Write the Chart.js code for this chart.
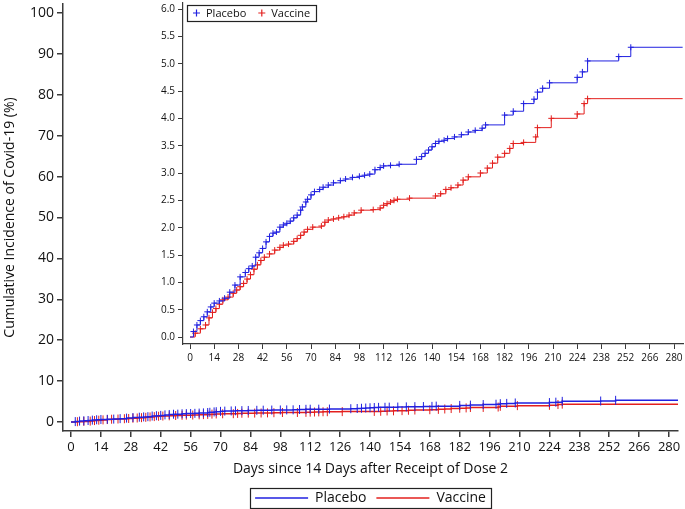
<!DOCTYPE html>
<html>
<head>
<meta charset="utf-8">
<script src="https://cdn.jsdelivr.net/npm/chart.js@4.4.0/dist/chart.umd.min.js"></script>
<style>
  html, body { margin: 0; padding: 0; background: #fff; }
  #wrap { position: relative; width: 685px; height: 509px; }
  #main { position: absolute; left: 0; top: 0; }
  #inset { position: absolute; left: 150px; top: 0; }
</style>
</head>
<body>
<div id="wrap">
  <canvas id="main" width="685" height="509"></canvas>
  <canvas id="inset" width="535" height="370"></canvas>
</div>
<script>
// tick labels
const xTicks = [0, 14, 28, 42, 56, 70, 84, 98, 112, 126, 140, 154, 168, 182, 196, 210, 224, 238, 252, 266, 280];
const mainYTicks = [0, 10, 20, 30, 40, 50, 60, 70, 80, 90, 100];
const insetYTicks = [0, 0.5, 1, 1.5, 2, 2.5, 3, 3.5, 4, 4.5, 5, 5.5, 6];

const groups = ['Placebo', 'Vaccine'];

// cumulative incidence (%), day -> value after the step
const placeboDays = [0, 2, 4, 6, 8, 10, 12, 14, 17, 20, 23, 26, 29, 32, 34, 36, 38, 40, 42, 44, 46, 48, 50, 52, 54, 56, 58, 60, 62, 64, 65, 67, 68, 70, 72, 75, 77, 80, 83, 87, 90, 94, 98, 101, 104, 107, 110, 112, 116, 121, 131, 134, 136, 138, 140, 142, 144, 147, 149, 153, 157, 161, 165, 169, 171, 182, 187, 193, 199, 201, 204, 208, 224, 227, 230, 248, 255, 285];
const placeboPct = [0, 0.10, 0.22, 0.30, 0.37, 0.46, 0.55, 0.62, 0.66, 0.71, 0.82, 0.95, 1.10, 1.18, 1.25, 1.30, 1.46, 1.54, 1.62, 1.74, 1.84, 1.90, 1.92, 2.01, 2.05, 2.08, 2.12, 2.18, 2.23, 2.32, 2.38, 2.47, 2.52, 2.60, 2.66, 2.70, 2.74, 2.78, 2.82, 2.86, 2.89, 2.92, 2.94, 2.96, 2.98, 3.06, 3.10, 3.13, 3.14, 3.16, 3.25, 3.30, 3.36, 3.42, 3.48, 3.54, 3.58, 3.60, 3.63, 3.66, 3.70, 3.75, 3.78, 3.82, 3.88, 4.06, 4.13, 4.27, 4.35, 4.48, 4.55, 4.65, 4.75, 4.85, 5.05, 5.13, 5.30, 5.30];

const vaccineDays = [0, 3, 6, 9, 11, 13, 15, 17, 19, 22, 25, 27, 29, 31, 33, 35, 37, 39, 41, 43, 46, 49, 52, 54, 57, 60, 62, 64, 66, 68, 71, 76, 78, 80, 83, 86, 89, 92, 95, 99, 106, 110, 112, 114, 116, 118, 120, 127, 142, 145, 148, 151, 155, 158, 161, 168, 172, 175, 178, 182, 185, 187, 193, 200, 201, 209, 224, 228, 230, 285];
const vaccinePct = [0, 0.07, 0.15, 0.22, 0.35, 0.45, 0.52, 0.60, 0.68, 0.73, 0.80, 0.86, 0.92, 0.98, 1.06, 1.14, 1.24, 1.32, 1.40, 1.46, 1.52, 1.59, 1.64, 1.68, 1.70, 1.75, 1.80, 1.86, 1.92, 1.97, 2.01, 2.03, 2.10, 2.14, 2.16, 2.18, 2.20, 2.23, 2.27, 2.32, 2.33, 2.36, 2.41, 2.44, 2.47, 2.50, 2.52, 2.54, 2.58, 2.62, 2.70, 2.73, 2.78, 2.87, 2.93, 3.00, 3.09, 3.18, 3.29, 3.36, 3.45, 3.54, 3.56, 3.66, 3.83, 4.00, 4.08, 4.27, 4.36, 4.36];

const colors = ['#2121e0', '#e3201e'];
const axisColor = '#3a3a3a';
const FONT = 'Open Sans';

function toPoints(days, vals) {
    return days.map((d, i) => ({ x: d, y: vals[i] }));
}

// no censor mark on the first and last point
const markRadius = r => ctx =>
    (ctx.dataIndex === 0 || ctx.dataIndex === ctx.dataset.data.length - 1) ? 0 : r;

function makeDatasets(style) {
    const series = [toPoints(placeboDays, placeboPct), toPoints(vaccineDays, vaccinePct)];
    return groups.map((g, i) => ({
        label: g,
        data: series[i],
        stepped: true,
        borderColor: colors[i],
        backgroundColor: colors[i],
        borderWidth: style.lineWidth,
        pointStyle: style.pointStyle,
        pointRotation: style.rotation,
        pointRadius: markRadius(style.radius),
        pointBorderWidth: 1,
        pointBorderColor: colors[i],
        fill: false
    }));
}

// box drawn round the legend items
const legendFrame = {
    id: 'legendFrame',
    afterDraw(chart, args, opts) {
        const boxes = chart.legend && chart.legend.legendHitBoxes;
        if (!opts.on || !boxes || !boxes.length) return;
        const left = Math.min(...boxes.map(b => b.left)) - opts.padX;
        const right = Math.max(...boxes.map(b => b.left + b.width)) + opts.padX;
        const top = Math.min(...boxes.map(b => b.top)) - opts.padY;
        const bottom = Math.max(...boxes.map(b => b.top + b.height)) + opts.padY;
        const ctx = chart.ctx;
        ctx.save();
        ctx.strokeStyle = '#222';
        ctx.lineWidth = opts.width;
        ctx.strokeRect(Math.round(left) + 0.5, Math.round(top) + 0.5, Math.round(right - left), Math.round(bottom - top));
        ctx.restore();
    }
};

// small key in the top-left corner of the inset plot
const insetKey = {
    id: 'insetKey',
    afterDraw(chart, args, o) {
        if (!o.on) return;
        const ctx = chart.ctx;
        const a = chart.chartArea;
        const left = a.left + o.left;
        const top = a.top + o.top;
        const cy = top + o.height / 2;
        ctx.save();
        ctx.font = o.size + 'px ' + FONT;
        ctx.textBaseline = 'middle';
        let x = left + o.padX;
        chart.data.datasets.forEach((ds, i) => {
            if (i) x += o.gap;
            const mx = x + o.mark;
            ctx.strokeStyle = ds.borderColor;
            ctx.lineWidth = 1.2;
            ctx.beginPath();
            ctx.moveTo(mx - o.mark, cy); ctx.lineTo(mx + o.mark, cy);
            ctx.moveTo(mx, cy - o.mark); ctx.lineTo(mx, cy + o.mark);
            ctx.stroke();
            x = mx + o.mark + o.textGap;
            ctx.fillStyle = '#111';
            ctx.fillText(ds.label, x, cy + 0.5);
            x += ctx.measureText(ds.label).width;
        });
        const right = x + o.padX;
        ctx.strokeStyle = '#222';
        ctx.lineWidth = 1.2;
        ctx.strokeRect(Math.round(left) + 0.5, Math.round(top) + 0.5, Math.round(right - left), o.height);
        ctx.restore();
    }
};

function setTicks(list) {
    return scale => { scale.ticks = list.map(v => ({ value: v })); };
}

// fixed axis sizes, no extra room for edge labels
function fixSize(prop, val) {
    return s => {
        s[prop] = val;
        s.paddingTop = 0; s.paddingBottom = 0; s.paddingLeft = 0; s.paddingRight = 0;
    };
}

// MAIN CHART
new Chart(document.getElementById('main'), {
    type: 'line',
    data: { datasets: makeDatasets({ lineWidth: 1.5, pointStyle: 'line', rotation: 90, radius: 4.5 }) },
    options: {
        responsive: false,
        animation: false,
        events: [],
        layout: { padding: { top: 4, right: 7, left: 0, bottom: -6 } },
        scales: {
            x: {
                type: 'linear',
                min: -3.75,
                max: 284.2,
                afterBuildTicks: setTicks(xTicks),
                afterFit: fixSize('height', 50),
                grid: { drawOnChartArea: false, tickLength: 6, color: axisColor, lineWidth: 1.5 },
                border: { color: axisColor, width: 1.5 },
                ticks: { color: '#111', font: { family: FONT, size: 13 }, padding: 2, maxRotation: 0, autoSkip: false },
                title: {
                    display: true,
                    text: 'Days since 14 Days after Receipt of Dose 2',
                    color: '#111',
                    font: { family: FONT, size: 14 },
                    padding: { top: 0, bottom: 4 }
                }
            },
            y: {
                min: -2.2,
                max: 102.2,
                afterBuildTicks: setTicks(mainYTicks),
                afterFit: fixSize('width', 63),
                grid: { drawOnChartArea: false, tickLength: 6, color: axisColor, lineWidth: 1.5 },
                border: { color: axisColor, width: 1.5 },
                ticks: { color: '#111', font: { family: FONT, size: 14 }, padding: 3 },
                title: {
                    display: true,
                    text: 'Cumulative Incidence of Covid-19 (%)',
                    color: '#111',
                    font: { family: FONT, size: 14 },
                    padding: { top: 2, bottom: 0 }
                }
            }
        },
        plugins: {
            legend: {
                position: 'bottom',
                fullSize: false,
                labels: {
                    usePointStyle: true,
                    pointStyleWidth: 53,
                    padding: 10,
                    color: '#111',
                    font: { family: FONT, size: 14 },
                    generateLabels: chart => chart.data.datasets.map((ds, i) => ({
                        text: ds.label,
                        fillStyle: ds.borderColor,
                        strokeStyle: ds.borderColor,
                        lineWidth: 1.5,
                        pointStyle: 'line',
                        rotation: 0,
                        fontColor: '#111',
                        hidden: false,
                        datasetIndex: i
                    }))
                }
            },
            tooltip: { enabled: false },
            legendFrame: { on: true, padX: 5, padY: 3, width: 1.2 },
            insetKey: { on: false }
        }
    },
    plugins: [legendFrame, insetKey]
});

// INSET CHART
new Chart(document.getElementById('inset'), {
    type: 'line',
    data: { datasets: makeDatasets({ lineWidth: 1, pointStyle: 'cross', rotation: 0, radius: 3 }) },
    options: {
        responsive: false,
        animation: false,
        events: [],
        layout: { padding: { top: 3, right: 2, left: 0, bottom: 0 } },
        scales: {
            x: {
                type: 'linear',
                min: -4.05,
                max: 285.2,
                afterBuildTicks: setTicks(xTicks),
                afterFit: fixSize('height', 26),
                grid: { drawOnChartArea: false, tickLength: 5, color: axisColor },
                border: { color: axisColor, width: 1.2 },
                ticks: { color: '#111', font: { family: FONT, size: 10 }, padding: 3, maxRotation: 0, autoSkip: false }
            },
            y: {
                min: -0.128,
                max: 6.11,
                afterBuildTicks: setTicks(insetYTicks),
                afterFit: fixSize('width', 33),
                grid: { drawOnChartArea: false, tickLength: 5, color: axisColor },
                border: { color: axisColor, width: 1.2 },
                ticks: { color: '#111', font: { family: FONT, size: 10 }, padding: 3, callback: v => v.toFixed(1) }
            }
        },
        plugins: {
            legend: { display: false },
            tooltip: { enabled: false },
            legendFrame: { on: false },
            insetKey: { on: true, left: 4, top: 2, height: 16, padX: 6, mark: 3.5, textGap: 6, gap: 12, size: 11 }
        }
    },
    plugins: [legendFrame, insetKey]
});
</script>
</body>
</html>
